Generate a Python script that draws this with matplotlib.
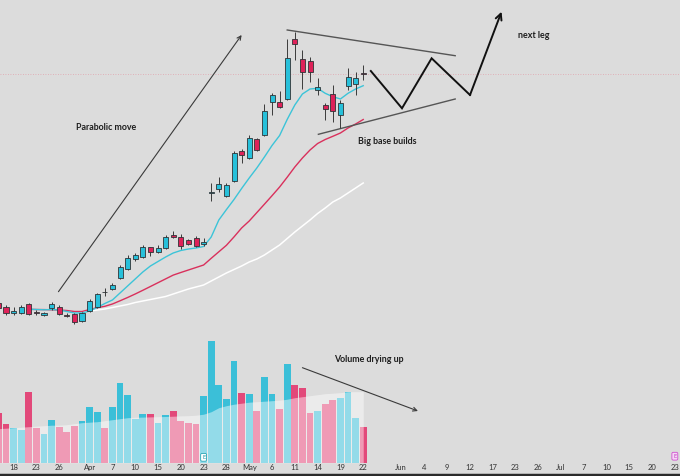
import numpy as np
import matplotlib
matplotlib.use("Agg")
import matplotlib.pyplot as plt
from matplotlib.lines import Line2D

# bar index (-1 = half hidden at the left edge, 47 = last session)
bars = list(range(-1, 48))

opens = [173, 168.7, 162.7, 162.7, 171.7, 164, 161, 167.7, 169.3, 161.3, 161.7,
         155.3, 165.3, 168.7, 183.8, 187, 197.7, 207.3, 216.7, 219.3, 228.7,
         224.3, 227.7, 241, 239.3, 235.7, 238.3, 231.7, 283.3, 287, 280.3,
         295.3, 325.3, 317.7, 336.7, 340.7, 374, 374.3, 376.7, 436.7, 416.7,
         415.3, 385.7, 370.7, 381.7, 361, 390, 391.7, 403.3]
closes = [168, 162.7, 165.3, 168.7, 162.3, 162.7, 162.7, 172.3, 162.3, 159.7, 153.7,
          162.7, 174.7, 182, 183.6, 190.7, 209.3, 218.3, 220.7, 228.7, 224.3,
          228.3, 239.3, 239, 230, 232.3, 229.7, 234.3, 283.7, 291.7, 291,
          322.7, 321.3, 338.3, 326, 365, 380.7, 369.3, 417.7, 432, 404.3,
          403.7, 389.3, 366.7, 365, 372.7, 399.3, 397.7, 401.7]
highs = [175, 171, 169, 171, 173.3, 166, 164, 174.3, 171, 163.3, 163,
         164, 176.7, 183.3, 188, 193, 211, 221, 223.3, 231, 229.5,
         231, 241, 245, 241.7, 237, 240.3, 238.3, 292.7, 299.3, 293,
         325, 327, 341, 338, 372, 382.7, 385.3, 437, 444, 426,
         419.3, 397.7, 372.7, 391, 376, 408.3, 404.3, 411]
lows = [166, 161, 161, 162, 161, 161.5, 160, 166.5, 161, 159, 152,
        154.5, 164.5, 168, 180, 186, 197, 206.5, 215.5, 218.5, 220.3,
        223.5, 227, 237.7, 227.3, 231, 229, 230, 275.3, 284.3, 279.5,
        294.5, 312.7, 317, 325, 340, 361, 368.5, 376, 416, 386.7,
        394.3, 381, 356, 354.3, 347.7, 386, 381, 396]
volumes = [49.4, 38.4, 34.4, 32.7, 70.7, 35, 28.4, 42.7, 36, 30.7, 36.7,
           41.4, 56, 50.7, 35, 56, 80, 67.4, 43.4, 48.4, 48.7,
           40, 47.4, 51.4, 42, 39.4, 38.7, 67, 121.7, 77.4, 63.7,
           101.7, 70, 68.7, 51.7, 86, 68.4, 53.4, 98.4, 77.7, 74.4,
           50, 51.7, 58.7, 62.7, 64.7, 71, 44.7, 36]
vol_ma = [34, 34.5, 35, 35.5, 36, 36.5, 37, 37.5, 37.5, 38, 39,
          40, 40.5, 41, 42, 43, 44, 45, 45.4, 45.6, 45.8,
          46, 46.2, 46.5, 46.8, 47, 47.5, 48.5, 51, 55, 57,
          58.5, 59.5, 60.5, 61, 61.5, 62, 62.5, 63.5, 65, 66,
          67, 68, 69, 69.5, 70, 71, 71, 71]

# moving averages (nan = not drawn yet)
nan = np.nan
ma_fast = [nan] * 4 + [166.7, 166.5, 166.2, 166.5, 166, 164.5, 163, 163, 165, 168.5,
                       172.5, 176, 183, 190, 197, 204, 210, 214.5, 219, 223,
                       225.5, 227, 228, 229.5, 239, 256, 266.4, 276.5, 287.5, 298,
                       308, 319, 330.5, 340.5, 356.6, 371, 382, 387, 387.7, 382.7,
                       379.3, 377, 382.7, 387, 390.3]
ma_mid = [nan] * 4 + [166.7, 166.5, 166.4, 166.2, 166, 165.5, 164.5, 164.5, 166.5, 168.3,
                      169.7, 172, 175.2, 178.5, 182, 185.7, 189.5, 193.3, 197.1, 200.9,
                      203.5, 206, 208.5, 211, 217.7, 224.2, 230.7, 239.1, 248, 255,
                      263.4, 271.8, 280.3, 289, 298.8, 309, 318, 326, 332.5, 336.5,
                      339.7, 343, 348, 352, 356.5]
ma_slow = [nan] * 11 + [164.3, 165, 166, 167, 168.5, 170, 171.5, 173.5, 175, 176.5,
                        178, 179.5, 182, 184.5, 187, 189, 191, 195, 199, 203,
                        206.5, 210, 214, 217, 221, 226, 231, 237.5, 244, 250,
                        256, 262.5, 268, 274, 278, 283, 288, 293]

last_price = 402

tick_pos = [1, 4, 7, 11, 14, 17, 20, 23, 26, 29, 32, 35, 38, 41, 44, 47,
            52, 55, 58, 61, 64, 67, 70, 73, 76, 79, 82, 85, 88]
tick_txt = ["18", "23", "26", "Apr", "7", "10", "15", "20", "23", "28", "May", "6",
            "11", "14", "19", "22", "Jun", "4", "9", "12", "17", "23", "26", "Jul",
            "7", "10", "15", "20", "23"]

# drawings on the chart
parabolic = [(6.9, 184.3), (31.0, 441)]
wedge_top = [(37.0, 446), (59.1, 420.3)]
wedge_bot = [(41.1, 341.7), (59.1, 377)]
zigzag = [(48.0, 405), (52.1, 367.7), (56.0, 417.7), (61.05, 381), (65.2, 464.3)]
vol_arrow = [(39.0, 95), (54.2, 51.7)]

BG = "#dcdcdc"
UP = "#27c0da"
DN = "#de2259"
VUP = "#3bbfd8"
VDN = "#e2497a"
EDGE = "#2f3336"

plt.rcParams["font.family"] = ["Lato", "DejaVu Sans"]

fig = plt.figure(figsize=(6.8, 4.76), dpi=100, facecolor=BG)
xlim = (-0.79, 88.68)

# volume pane
base = 13.3 / 476
axv = fig.add_axes([0, base, 1, 1 - base])
axv.set_facecolor("none")
axv.set_xlim(*xlim)
axv.set_ylim(0, 462.7)
x = np.array(bars)
o = np.array(opens)
c = np.array(closes)
up = c >= o
axv.bar(x, volumes, width=0.88, color=np.where(up, VUP, VDN), lw=0)
axv.fill_between(x, 0, vol_ma, color="white", alpha=0.45, lw=0)
axv.annotate("", xy=vol_arrow[1], xytext=vol_arrow[0],
             arrowprops=dict(arrowstyle="->", color="#3a3a3a", lw=0.8,
                             shrinkA=0, shrinkB=0, mutation_scale=7))
axv.text(43.2, 103.4, "Volume drying up", fontsize=6.4, fontweight="bold",
         color="#1e1e1e", va="center", ha="left")
axv.text(26, 5.4, "E", fontsize=4, color="#1e8f9c", ha="center", va="center",
         bbox=dict(boxstyle="round,pad=0.25", fc="white", ec="#2aa6b5", lw=0.6))
axv.text(88, 6.5, "E", fontsize=4, color="#c040c0", ha="center", va="center",
         bbox=dict(boxstyle="round,pad=0.25", fc="#f6d6f6", ec="#d050d0", lw=0.6))
axv.set_xticks(tick_pos)
axv.set_xticklabels(tick_txt)
axv.tick_params(axis="x", length=0, pad=1.2, labelsize=5.5, labelcolor="#333333")
axv.set_yticks([])
for s in axv.spines.values():
    s.set_visible(False)

# price pane
ax = fig.add_axes([0, 0, 1, 1])
ax.set_facecolor("none")
ax.set_xlim(*xlim)
ax.set_ylim(0, 476)
ax.axis("off")

ax.axhline(last_price, color="#e3a2ac", lw=0.6, ls=(0, (1, 2)), zorder=1)

ax.plot(x, ma_slow, color="white", lw=1.1, zorder=2)
ax.plot(x, ma_mid, color="#d9305c", lw=1.0, zorder=2)
ax.plot(x, ma_fast, color="#3cc4d8", lw=1.0, zorder=2)

ax.vlines(x, lows, highs, color="#3a3a3a", lw=0.7, zorder=3)
body_lo = np.minimum(o, c)
body_h = np.maximum(np.abs(c - o), 0.4)
ax.bar(x, body_h, bottom=body_lo, width=0.66, color=np.where(up, UP, DN),
       edgecolor=EDGE, lw=0.6, zorder=4)

ax.annotate("", xy=parabolic[1], xytext=parabolic[0],
            arrowprops=dict(arrowstyle="->", color="#3a3a3a", lw=0.8,
                            shrinkA=0, shrinkB=0, mutation_scale=7))
ax.plot(*zip(*wedge_top), color="#555555", lw=1.0)
ax.plot(*zip(*wedge_bot), color="#555555", lw=1.0)
zx, zy = zip(*zigzag)
ax.plot(zx[:-1], zy[:-1], color="#111111", lw=1.4, solid_joinstyle="miter")
ax.annotate("", xy=zigzag[-1], xytext=zigzag[-2],
            arrowprops=dict(arrowstyle="->", color="#111111", lw=1.4,
                            shrinkA=0, shrinkB=0, mutation_scale=11))

ax.text(9.15, 348.7, "Parabolic move", fontsize=6.4, fontweight="bold",
        color="#1e1e1e", va="center", ha="left")
ax.text(46.25, 334.3, "Big base builds", fontsize=6.4, fontweight="bold",
        color="#1e1e1e", va="center", ha="left")
ax.text(67.3, 441, "next leg", fontsize=6.4, fontweight="bold",
        color="#1e1e1e", va="center", ha="left")

fig.add_artist(Line2D([0, 1], [0.002, 0.002], transform=fig.transFigure,
                      color="#2a2a2a", lw=2.5))

fig.savefig("out.png", dpi=100, facecolor=BG)
